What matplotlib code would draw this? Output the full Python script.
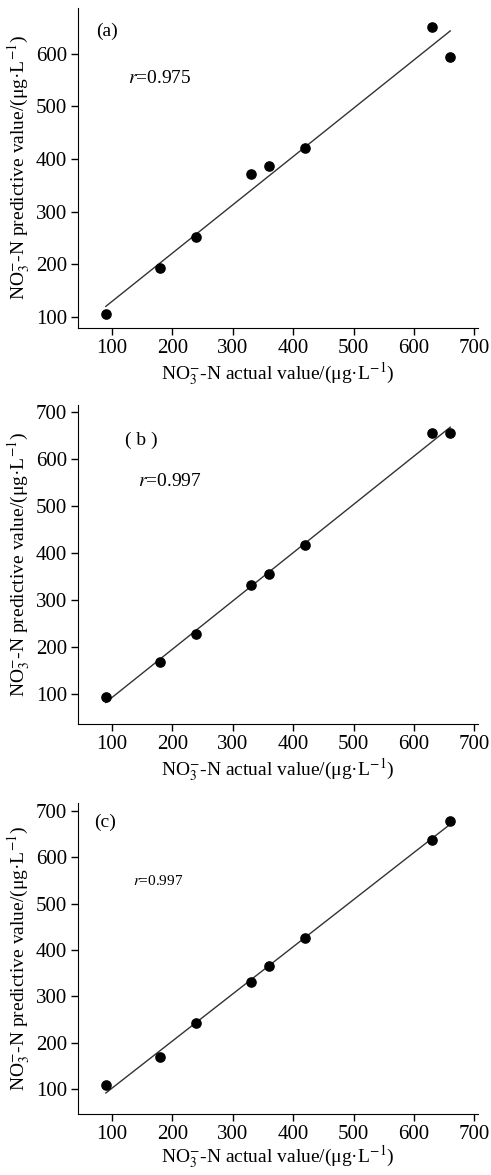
import numpy as np
import matplotlib
matplotlib.use("Agg")
import matplotlib.pyplot as plt

plt.rcParams["font.family"] = ["Liberation Serif", "DejaVu Serif"]
plt.rcParams["mathtext.fontset"] = "stix"

# actual NO3--N values (same for all panels)
actual = [90, 180, 240, 330, 360, 420, 630, 660]

# predicted values for the three models
pred_a = [105, 192, 252, 371, 386, 421, 650, 594]
pred_b = [94, 169, 229, 333, 355, 417, 656, 656]
pred_c = [109, 169, 242, 332, 366, 427, 638, 679]

panel_tags = ["(a)", "( b )", "(c)"]
r_labels = ["0.975", "0.997", "0.997"]

XLAB = r"NO$_3^{-}$-N actual value/(μg·L$^{-1}$)"
YLAB = r"NO$_3^{-}$-N predictive value/(μg·L$^{-1}$)"

fig = plt.figure(figsize=(4.91, 11.75), dpi=100)

# axes boxes (left, bottom, width, height) in figure fractions
boxes = [
    [0.1589, 0.7209, 0.8147, 0.2723],
    [0.1589, 0.3836, 0.8147, 0.2717],
    [0.1589, 0.0520, 0.8147, 0.2650],
]
ylims = [(79, 687), (36, 715), (47, 718)]
tag_pos = [(0.045, 0.926), (0.1175, 0.89), (0.04, 0.935)]
r_pos = [(0.125, 0.78), (0.149, 0.76), (0.137, 0.747)]
r_size = [14, 14, 11]
xlab_pad = [2, 2, 0]

for i, pred in enumerate([pred_a, pred_b, pred_c]):
    ax = fig.add_axes(boxes[i])
    x = np.array(actual)
    y = np.array(pred)
    k, b = np.polyfit(x, y, 1)
    xs = np.array([x.min(), x.max()])
    ax.plot(xs, k * xs + b, color="#333333", lw=1.0)
    ax.scatter(x, y, s=44, color="black", zorder=3)

    ax.set_xlim(44, 706)
    ax.set_ylim(*ylims[i])
    ax.set_xticks(range(100, 701, 100))
    if i == 0:
        ax.set_yticks(range(100, 601, 100))
    else:
        ax.set_yticks(range(100, 701, 100))

    ax.spines["top"].set_visible(False)
    ax.spines["right"].set_visible(False)
    ax.tick_params(direction="out", length=5, width=1, labelsize=15, pad=3)
    ax.set_xlabel(XLAB, fontsize=14, labelpad=xlab_pad[i])
    ax.set_ylabel(YLAB, fontsize=14, labelpad=2)

    ax.text(*tag_pos[i], panel_tags[i], transform=ax.transAxes,
            fontsize=14, ha="left", va="center")
    ax.text(*r_pos[i], r"$r$=" + r_labels[i], transform=ax.transAxes,
            fontsize=r_size[i], ha="left", va="center")

plt.savefig("out.png", dpi=100)
